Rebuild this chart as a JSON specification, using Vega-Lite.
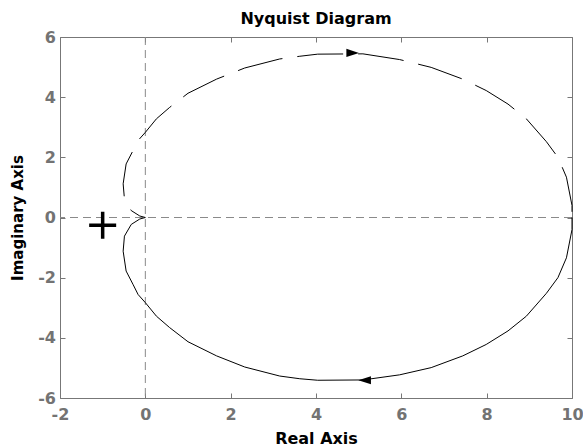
{
  "$schema": "https://vega.github.io/schema/vega-lite/v6.json",
  "width": 512,
  "height": 361,
  "autosize": {"type": "none"},
  "padding": {"left": 60, "top": 37, "right": 11, "bottom": 48},
  "background": "white",
  "title": {
    "text": "Nyquist Diagram",
    "font": "DejaVu Sans",
    "fontSize": 16,
    "fontWeight": "bold",
    "color": "black",
    "baseline": "alphabetic",
    "offset": 11,
    "dy": 22,
    "anchor": "middle"
  },
  "config": {
    "view": {"stroke": null},
    "axis": {
      "domainColor": "#777777",
      "domainWidth": 1,
      "tickColor": "#777777",
      "tickSize": -5,
      "tickWidth": 1,
      "grid": false,
      "labelFont": "DejaVu Sans",
      "labelFontSize": 16,
      "labelFontWeight": "bold",
      "labelColor": "#737373",
      "labelFlush": false,
      "labelOverlap": false,
      "labelExpr": "'' + datum.value",
      "titleFont": "DejaVu Sans",
      "titleFontSize": 16,
      "titleFontWeight": "bold",
      "titleColor": "black"
    }
  },
  "datasets": {
    "lower": [
      {"re": 10.0, "im": 0.0},
      {"re": 10.0, "im": -0.4},
      {"re": 9.87, "im": -1.34},
      {"re": 9.67, "im": -2.0},
      {"re": 9.4, "im": -2.52},
      {"re": 8.93, "im": -3.28},
      {"re": 8.5, "im": -3.77},
      {"re": 7.99, "im": -4.22},
      {"re": 7.44, "im": -4.6},
      {"re": 6.7, "im": -4.99},
      {"re": 5.96, "im": -5.23},
      {"re": 5.1, "im": -5.4},
      {"re": 4.04, "im": -5.41},
      {"re": 3.62, "im": -5.36},
      {"re": 3.15, "im": -5.27},
      {"re": 2.33, "im": -4.97},
      {"re": 1.67, "im": -4.6},
      {"re": 1.0, "im": -4.13},
      {"re": 0.57, "im": -3.66},
      {"re": 0.26, "im": -3.28},
      {"re": 0.0, "im": -2.83},
      {"re": -0.17, "im": -2.56},
      {"re": -0.29, "im": -2.22},
      {"re": -0.45, "im": -1.78},
      {"re": -0.52, "im": -1.12},
      {"re": -0.49, "im": -0.62},
      {"re": -0.33, "im": -0.23},
      {"re": -0.13, "im": -0.05},
      {"re": 0.0, "im": 0.0}
    ],
    "upper": [
      {"re": 0.0, "im": 0.0},
      {"re": -0.13, "im": 0.05},
      {"re": -0.33, "im": 0.23},
      {"re": -0.49, "im": 0.62},
      {"re": -0.52, "im": 1.12},
      {"re": -0.45, "im": 1.78},
      {"re": -0.29, "im": 2.22},
      {"re": -0.17, "im": 2.56},
      {"re": 0.0, "im": 2.83},
      {"re": 0.26, "im": 3.28},
      {"re": 0.57, "im": 3.66},
      {"re": 1.0, "im": 4.13},
      {"re": 1.67, "im": 4.6},
      {"re": 2.33, "im": 4.97},
      {"re": 3.15, "im": 5.27},
      {"re": 3.62, "im": 5.36},
      {"re": 4.04, "im": 5.43},
      {"re": 5.1, "im": 5.44},
      {"re": 5.96, "im": 5.25},
      {"re": 6.7, "im": 4.99},
      {"re": 7.44, "im": 4.6},
      {"re": 7.99, "im": 4.22},
      {"re": 8.5, "im": 3.77},
      {"re": 8.93, "im": 3.28},
      {"re": 9.4, "im": 2.52},
      {"re": 9.67, "im": 2.0},
      {"re": 9.87, "im": 1.34},
      {"re": 10.0, "im": 0.4},
      {"re": 10.0, "im": 0.0}
    ],
    "arrows": [
      {"re": 4.86, "im": 5.47, "dir": "right"},
      {"re": 5.14, "im": -5.41, "dir": "left"}
    ],
    "plus": [{"re": -1.0, "im": -0.26}],
    "zero": [{"v": 0}]
  },
  "layer": [
    {
      "data": {"name": "zero"},
      "mark": {"type": "rule", "stroke": "#8a8a8a", "strokeWidth": 1, "strokeDash": [8, 5]},
      "encoding": {
        "x": {
          "field": "v", "type": "quantitative",
          "scale": {"domain": [-2, 10], "nice": false, "zero": false},
          "axis": {"orient": "bottom", "values": [-2, 0, 2, 4, 6, 8, 10], "title": "Real Axis", "labelPadding": 13.5, "titlePadding": 7.5}
        }
      }
    },
    {
      "data": {"name": "zero"},
      "mark": {"type": "rule", "stroke": "#8a8a8a", "strokeWidth": 1, "strokeDash": [8, 5]},
      "encoding": {
        "y": {
          "field": "v", "type": "quantitative",
          "scale": {"domain": [-6, 6], "nice": false, "zero": false},
          "axis": {"orient": "left", "values": [-6, -4, -2, 0, 2, 4, 6], "title": "Imaginary Axis", "titleFontSize": 15, "labelPadding": 9.5, "titlePadding": 12.5}
        }
      }
    },
    {
      "data": {"name": "lower"},
      "mark": {"type": "line", "stroke": "black", "strokeWidth": 1},
      "encoding": {
        "x": {"field": "re", "type": "quantitative", "axis": {"orient": "top", "values": [-2, 0, 2, 4, 6, 8, 10], "labels": false, "title": null}},
        "y": {"field": "im", "type": "quantitative", "axis": {"orient": "right", "values": [-6, -4, -2, 0, 2, 4, 6], "labels": false, "title": null}},
        "order": {"value": null}
      }
    },
    {
      "data": {"name": "upper"},
      "mark": {"type": "line", "stroke": "black", "strokeWidth": 1, "strokeDash": [46, 15], "strokeDashOffset": 29},
      "encoding": {
        "x": {"field": "re", "type": "quantitative", "axis": null},
        "y": {"field": "im", "type": "quantitative", "axis": null},
        "order": {"value": null}
      }
    },
    {
      "data": {"name": "arrows"},
      "mark": {"type": "point", "filled": true, "color": "black", "opacity": 1, "size": 160},
      "encoding": {
        "x": {"field": "re", "type": "quantitative", "axis": null},
        "y": {"field": "im", "type": "quantitative", "axis": null},
        "shape": {
          "field": "dir", "type": "nominal", "legend": null,
          "scale": {"domain": ["right", "left"], "range": ["M 1 0 L -1 -0.65 L -1 0.65 Z", "M -1 0 L 1 -0.65 L 1 0.65 Z"]}
        }
      }
    },
    {
      "data": {"name": "plus"},
      "mark": {"type": "point", "filled": false, "stroke": "black", "strokeWidth": 3.5, "opacity": 1, "size": 729, "shape": "M -1 0 L 1 0 M 0 -1 L 0 1"},
      "encoding": {
        "x": {"field": "re", "type": "quantitative", "axis": null},
        "y": {"field": "im", "type": "quantitative", "axis": null}
      }
    }
  ],
  "resolve": {"axis": {"x": "independent", "y": "independent"}}
}
